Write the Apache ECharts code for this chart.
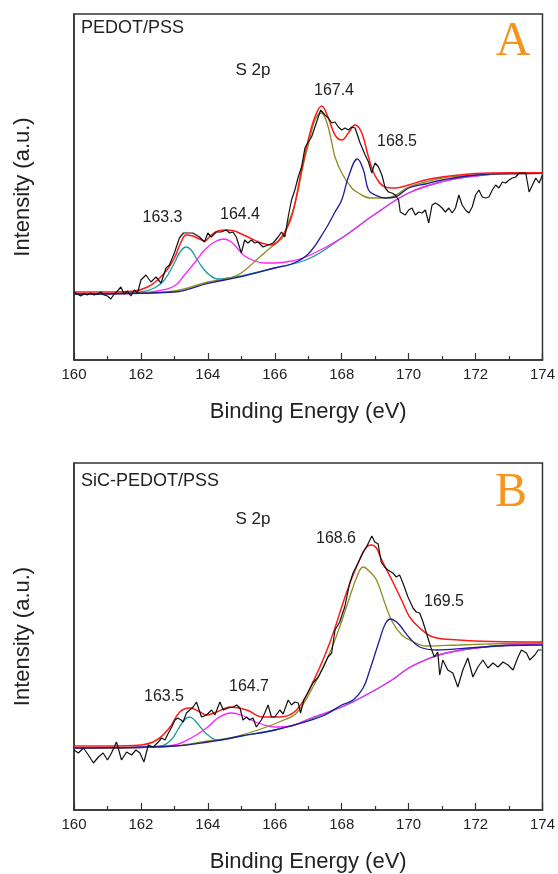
<!DOCTYPE html>
<html>
<head>
<meta charset="utf-8">
<script src="https://cdn.jsdelivr.net/npm/echarts@6/dist/echarts.min.js"></script>
<style>
html,body{margin:0;padding:0;background:#fff;}
#chart{width:558px;height:874px;}
</style>
</head>
<body>
<div id="chart"></div>
<script>
// ---------- Panel A : PEDOT/PSS (binding energy eV, intensity a.u.) ----------
const xTicks = [160, 162, 164, 166, 168, 170, 172, 174];

const dataA = [[160.0,68],[160.1,66],[160.2,64],[160.3,66],[160.4,65],[160.5,67],[160.6,65],[160.7,66],[160.8,68],[160.9,65],
[161.0,64],[161.1,61],[161.2,66],[161.3,69],[161.4,73],[161.5,66],[161.6,69],[161.7,64],[161.8,70],[161.9,67],
[162.0,80],[162.15,85],[162.3,78],[162.45,83],[162.6,77],[162.75,92],[162.85,95],[163.0,107],[163.15,122],[163.27,127],
[163.4,127],[163.55,127],[163.75,123],[163.9,118],[164.0,127],[164.1,123],[164.25,128],[164.4,128],[164.55,130],[164.65,127],
[164.75,128],[164.85,123],[165.0,107],[165.1,120],[165.2,117],[165.3,120],[165.4,117],[165.5,118],[165.65,113],[165.8,115],
[165.95,117],[166.1,123],[166.2,128],[166.3,123],[166.4,143],[166.5,160],[166.6,170],[166.7,183],[166.8,193],[166.9,212],
[167.0,218],[167.1,223],[167.2,233],[167.3,243],[167.37,250],[167.5,245],[167.6,242],[167.7,237],[167.8,238],[167.9,233],
[168.0,230],[168.1,232],[168.2,230],[168.3,233],[168.4,232],[168.55,217],[168.7,205],[168.8,198],[168.9,187],[168.95,193],
[169.0,197],[169.1,193],[169.2,185],[169.3,172],[169.4,168],[169.5,167],[169.6,165],[169.7,160],[169.75,148],[169.9,145],
[170.0,150],[170.1,152],[170.2,145],[170.3,148],[170.4,147],[170.5,150],[170.6,137],[170.7,155],[170.8,157],[170.9,155],
[171.0,152],[171.1,148],[171.2,152],[171.3,147],[171.4,152],[171.5,165],[171.6,155],[171.7,150],[171.8,147],[171.9,153],
[172.0,165],[172.1,170],[172.2,163],[172.3,162],[172.4,163],[172.5,170],[172.6,175],[172.7,172],[172.8,178],[172.9,177],
[173.0,180],[173.1,182],[173.2,183],[173.3,187],[173.4,187],[173.5,187],[173.6,168],[173.7,175],[173.8,182],[173.9,177],[174.0,185]];

const envA = [[160,68],[161,68],[161.8,69],[162.2,73],[162.5,80],[162.8,91],[163.0,102],[163.2,118],[163.35,125],[163.55,124],
[163.75,121],[163.9,119],[164.1,125],[164.3,129],[164.55,130],[164.8,129],[165.0,126],[165.2,123],[165.6,117],[165.9,115],
[166.2,123],[166.5,143],[166.8,190],[167.0,220],[167.2,243],[167.4,254],[167.6,242],[167.8,225],[168.0,220],[168.2,227],
[168.4,235],[168.6,227],[168.8,203],[169.0,184],[169.3,173],[169.6,172],[170,175],[170.5,180],[171,183],[172,186.5],[173,187.3],[174,187.3]];

const peak1A = [[160,66],[161,66.5],[162,68],[162.4,72],[162.7,80],[163.0,97],[163.15,107],[163.35,113],[163.5,110],[163.65,102],
[163.85,92],[164.05,85],[164.3,81],[164.6,82],[165,84],[166,92],[167,101],[168,122],[169,146],[170,167],[171,178.3],[172,184],[173,186.3],[174,186.7]];

const peak2A = [[160,66],[162,67],[162.5,69],[163,74],[163.3,85],[163.6,97],[163.9,110],[164.2,118],[164.48,121],[164.7,118],
[164.9,111],[165.1,104],[165.4,99],[165.7,97],[166,97],[166.5,99],[167,104],[168,122],[169,146],[170,167],[171,178.3],[172,184],[173,186.3],[174,186.7]];

const peak3A = [[160,66],[162,67],[163,69],[164,78],[164.66,82],[165,87],[165.55,103],[166.0,116],[166.25,123],[166.4,137],
[166.55,150],[166.7,170],[166.85,195],[167.04,220],[167.2,240],[167.39,247],[167.55,238],[167.7,218],[167.8,203],[168,187],
[168.3,172],[168.5,167],[168.84,162],[169.2,162],[169.5,163],[170,173],[170.5,178],[171,182],[172,185],[173,186.5],[174,186.7]];

const peak4A = [[160,66],[163,68],[164,76.7],[165,83.3],[166,92],[166.5,96],[167,106],[167.5,130],[167.8,148],[168.0,160],
[168.2,183],[168.47,201],[168.65,190],[168.8,170],[169.0,165],[169.3,162],[169.6,163],[170,172],[170.5,176],[171,180],[172,185],[173,186.5],[174,186.7]];

// ---------- Panel B : SiC-PEDOT/PSS ----------
const dataB = [[160.0,60],[160.13,57],[160.28,62],[160.43,55],[160.58,47],[160.73,53],[160.87,57],[161.0,50],[161.12,57],[161.27,68],
[161.42,50],[161.57,58],[161.72,55],[161.85,60],[161.97,57],[162.09,48],[162.22,65],[162.37,63],[162.52,68],[162.62,72],
[162.72,70],[162.82,77],[162.92,83],[163.02,90],[163.1,92],[163.2,90],[163.26,88],[163.36,97],[163.46,100],[163.56,103],
[163.66,108],[163.81,93],[163.96,95],[164.11,100],[164.21,95],[164.36,108],[164.46,100],[164.61,102],[164.76,103],[164.86,105],
[164.96,102],[165.05,90],[165.16,93],[165.25,90],[165.35,92],[165.45,83],[165.6,90],[165.7,97],[165.8,105],[165.9,93],
[166.0,93],[166.15,100],[166.25,96],[166.4,110],[166.5,105],[166.6,108],[166.7,107],[166.77,97],[166.87,110],[167.0,118],
[167.14,127],[167.3,133],[167.44,142],[167.59,153],[167.7,157],[167.8,180],[167.94,188],[168.09,203],[168.24,227],[168.34,237],
[168.49,247],[168.64,258],[168.74,263],[168.9,274],[168.99,268],[169.09,266],[169.18,248],[169.28,243],[169.38,240],[169.53,237],
[169.63,233],[169.73,235],[169.83,227],[169.98,213],[170.13,202],[170.23,198],[170.33,197],[170.43,188],[170.53,177],[170.67,162],
[170.77,153],[170.87,158],[170.93,135],[171.02,150],[171.17,140],[171.32,137],[171.47,123],[171.62,140],[171.77,152],[171.92,133],
[172.07,143],[172.22,150],[172.37,142],[172.52,147],[172.67,143],[172.82,148],[172.97,145],[173.12,140],[173.27,153],[173.37,160],
[173.52,157],[173.62,150],[173.77,155],[173.87,160],[173.97,160]];

const envB = [[160,64],[161,64],[162,65],[162.47,70],[162.87,83],[163.16,98],[163.46,102],[163.76,98],[163.96,95],[164.26,98],
[164.66,103],[165.16,100],[165.65,93],[166.15,93],[166.65,100],[167.14,128],[167.64,167],[168.14,217],[168.44,243],[168.74,263],
[168.9,265],[169.04,262],[169.13,255],[169.3,243],[169.53,228],[169.83,207],[170.03,193],[170.33,182],[170.73,173],[171.5,170],[172.5,168.5],[174,168]];

const peak1B = [[160,62],[162,62.5],[162.6,64],[162.9,70],[163.1,80],[163.3,90],[163.45,93],[163.6,90],[163.8,82],[164.0,75],
[164.3,70],[164.6,71],[165,74],[166,80],[167,90],[168,103],[168.5,111],[169,120],[169.5,130],[170,142],[170.5,150],[171,156],[172,162],[173,165],[174,166]];

const peak2B = [[160,62],[162,62.5],[163,65],[163.5,72],[164.0,83],[164.3,92],[164.7,97],[165.0,95],[165.3,90],[165.6,86],
[166.0,83],[166.5,84],[167,91],[168,103],[168.5,111],[169,120],[169.5,130],[170,142],[170.5,150],[171,156],[172,162],[173,165],[174,166]];

const peak3B = [[160,62],[162,62.5],[163,64],[164,69],[164.66,72],[165.5,80],[166.2,89],[166.65,97],[167.14,123],[167.64,157],
[167.94,183],[168.24,213],[168.44,232],[168.64,243],[168.85,238],[169.04,230],[169.33,203],[169.53,187],[169.8,175],[170.03,170],
[170.53,164],[171.5,165],[173,166.5],[174,167]];

const peak4B = [[160,62],[163,64],[164,68],[165,74],[166,80],[167,89],[167.5,95],[168.0,105],[168.34,110],[168.64,122],
[168.84,140],[169.13,170],[169.3,186],[169.46,191],[169.6,189],[169.73,185],[170.03,172],[170.33,163],[170.83,160],[171.8,162],[173,164.5],[174,165]];

// ---------- text ----------
const panelTitles = ['PEDOT/PSS', 'SiC-PEDOT/PSS'];
const panelLetters = ['A', 'B'];
const peakLabelsA = ['163.3', '164.4', '167.4', '168.5'];
const peakLabelsB = ['163.5', '164.7', '168.6', '169.5'];
const xTitle = 'Binding Energy (eV)';
const yTitle = 'Intensity (a.u.)';

const SANS = '"Liberation Sans", Arial, sans-serif';
const SERIF = '"Liberation Serif", "Times New Roman", serif';
const AXC = '#333';

const colors = {data:'#111', env:'#ff1a1a', p1:'#1f9a9a', p2:'#ff22ff', p3:'#8c8c1e', p4:'#1c1c96'};

function xAxisCfg(gi) {
  return {
    gridIndex: gi, type: 'value', min: 160, max: 174, interval: 2,
    name: xTitle, nameLocation: 'middle', nameGap: 41,
    nameTextStyle: {fontSize: 22, fontFamily: SANS, color: '#222'},
    axisLine: {show: true, onZero: false, lineStyle: {color: AXC, width: 1.5}},
    axisTick: {show: true, inside: true, length: 7, lineStyle: {color: AXC, width: 1.2}},
    minorTick: {show: true, splitNumber: 2, length: 4, lineStyle: {color: AXC, width: 1.2}},
    axisLabel: {fontSize: 15, fontFamily: SANS, color: '#222', margin: 7,
      formatter: v => xTicks.indexOf(v) >= 0 ? String(v) : ''},
    splitLine: {show: false}, minorSplitLine: {show: false}
  };
}
function yAxisCfg(gi, max) {
  return {
    gridIndex: gi, type: 'value', min: 0, max: max,
    name: yTitle, nameLocation: 'middle', nameGap: 40,
    nameTextStyle: {fontSize: 22, fontFamily: SANS, color: '#222'},
    axisLine: {show: true, lineStyle: {color: AXC, width: 1.5}},
    axisTick: {show: false}, axisLabel: {show: false}, splitLine: {show: false}
  };
}
function lineSeries(gi, data, color, width, smooth, z) {
  return {
    type: 'line', xAxisIndex: gi, yAxisIndex: gi, data: data,
    showSymbol: false, symbol: 'none', smooth: smooth ? 0.4 : false,
    lineStyle: {color: color, width: width}, z: z, animation: false
  };
}
function txt(x, y, s, size, opts) {
  opts = opts || {};
  return {
    type: 'text', x: x, y: y, z: 100,
    style: {text: s, font: (opts.weight || 'normal') + ' ' + size + 'px ' + (opts.family || SANS),
      fill: opts.color || '#222', align: opts.align || 'center', verticalAlign: 'middle'}
  };
}

const option = {
  backgroundColor: '#fff',
  animation: false,
  grid: [
    {left: 74, top: 14, width: 469, height: 346, show: true, borderColor: AXC, borderWidth: 1.5, backgroundColor: 'transparent'},
    {left: 74, top: 463, width: 469, height: 347, show: true, borderColor: AXC, borderWidth: 1.5, backgroundColor: 'transparent'}
  ],
  xAxis: [xAxisCfg(0), xAxisCfg(1)],
  yAxis: [yAxisCfg(0, 346), yAxisCfg(1, 347)],
  series: [
    lineSeries(0, peak1A, colors.p1, 1.3, true, 2),
    lineSeries(0, peak2A, colors.p2, 1.3, true, 2),
    lineSeries(0, peak3A, colors.p3, 1.3, true, 2),
    lineSeries(0, peak4A, colors.p4, 1.3, true, 3),
    lineSeries(0, envA, colors.env, 1.5, true, 4),
    lineSeries(0, dataA, colors.data, 1.2, false, 5),
    lineSeries(1, peak1B, colors.p1, 1.3, true, 2),
    lineSeries(1, peak2B, colors.p2, 1.3, true, 2),
    lineSeries(1, peak3B, colors.p3, 1.3, true, 2),
    lineSeries(1, peak4B, colors.p4, 1.3, true, 3),
    lineSeries(1, envB, colors.env, 1.5, true, 4),
    lineSeries(1, dataB, colors.data, 1.2, false, 5)
  ],
  graphic: [
    txt(81, 28, panelTitles[0], 18, {align: 'left'}),
    txt(253, 70, 'S 2p', 17),
    txt(162.5, 218, peakLabelsA[0], 16),
    txt(240, 215, peakLabelsA[1], 16),
    txt(334, 91, peakLabelsA[2], 16),
    txt(397, 142, peakLabelsA[3], 16),
    txt(513, 42, panelLetters[0], 48, {family: SERIF, color: '#F7941D'}),
    txt(81, 481, panelTitles[1], 18, {align: 'left'}),
    txt(253, 519, 'S 2p', 17),
    txt(164, 697, peakLabelsB[0], 16),
    txt(249, 687, peakLabelsB[1], 16),
    txt(336, 539, peakLabelsB[2], 16),
    txt(444, 602, peakLabelsB[3], 16),
    txt(511, 493, panelLetters[1], 48, {family: SERIF, color: '#F7941D'})
  ]
};

const chart = echarts.init(document.getElementById('chart'), null, {renderer: 'canvas'});
chart.setOption(option);
</script>
</body>
</html>
